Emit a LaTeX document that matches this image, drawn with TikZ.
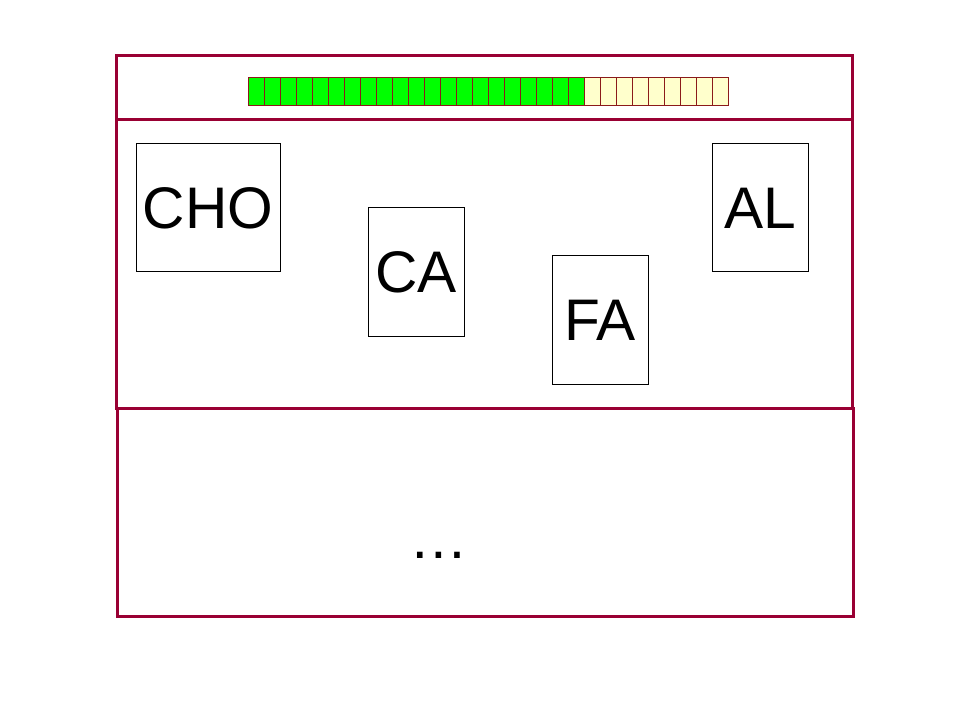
\documentclass[tikz,border=0pt]{standalone}
\usepackage{fontspec}
\setmainfont{Liberation Sans}
\usepackage{tikz}

\definecolor{framered}{HTML}{990033}
\definecolor{cellgreen}{HTML}{00FF00}
\definecolor{cellyellow}{HTML}{FFFFCC}
\definecolor{celledge}{HTML}{8B1A1A}

\begin{document}
\begin{tikzpicture}[x=0.75pt,y=-0.75pt,
    frame/.style={draw=framered,line width=2.25pt},
    cell/.style={draw=celledge,line width=0.6pt,inner sep=0pt,minimum width=12pt,minimum height=21pt},
    unit/.style={draw=black,line width=0.75pt,inner sep=0pt,minimum height=96pt,font=\fontsize{44}{50}\selectfont},
    wide/.style={unit,minimum width=108pt},
    narrow/.style={unit,minimum width=72pt}]
  \useasboundingbox (0,0) rectangle (960,720);
  % frames
  \draw[frame] (116,56) rectangle (852,408);
  \draw[frame] (116,120) -- (852,120);
  \draw[frame] (117,408) rectangle (853,616);
  % progress bar
  \foreach \i in {0,...,20}
    \node[cell,fill=cellgreen] at (256+16*\i,91) (cell\i) {};
  \foreach \i in {21,...,29}
    \node[cell,fill=cellyellow] at (256+16*\i,91) (cell\i) {};
  % units
  \node[wide]   at (208,208) (cho) {CHO};
  \node[narrow] at (416,272) (ca)  {CA};
  \node[narrow] at (600,320) (fa)  {FA};
  \node[narrow] at (760,208) (al)  {AL};
  \node[font=\fontsize{44}{50}\selectfont,anchor=base] at (439,558) (more) {…};
\end{tikzpicture}
\end{document}
